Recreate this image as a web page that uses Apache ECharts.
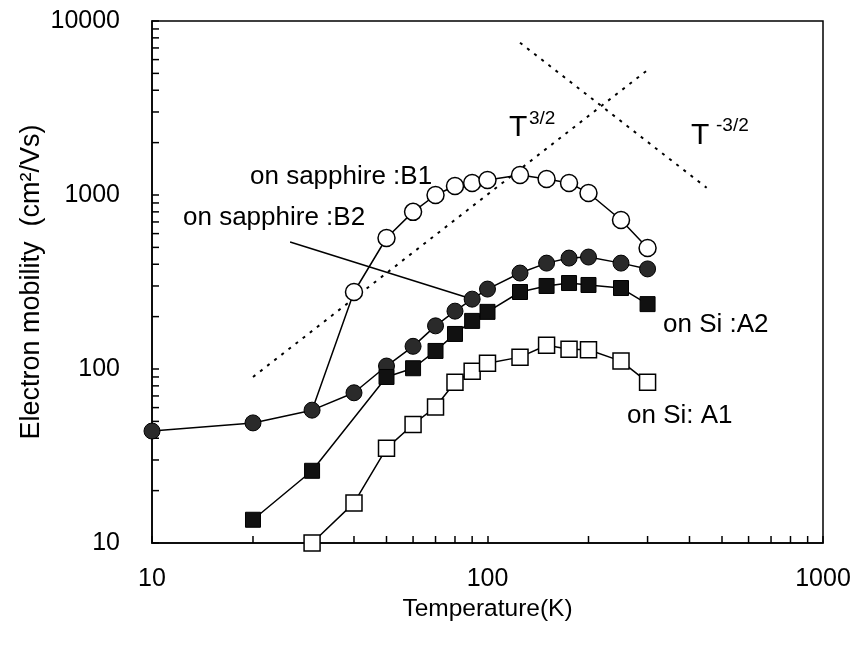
<!DOCTYPE html>
<html>
<head>
<meta charset="utf-8">
<style>
  html, body { margin: 0; padding: 0; background: #fff; }
  #chart { width: 861px; height: 649px; }
</style>
<script src="https://cdn.jsdelivr.net/npm/echarts@6/dist/echarts.min.js"></script>
</head>
<body>
<div id="chart"></div>
<script>
// temperature (K) and electron mobility (cm2/Vs)
var tempB1 = [30, 40, 50, 60, 70, 80, 90, 100, 125, 150, 175, 200, 250, 300];
var mobB1  = [58, 277, 566, 800, 1000, 1127, 1173, 1220, 1303, 1236, 1173, 1027, 718, 496];

var tempB2 = [10, 20, 30, 40, 50, 60, 70, 80, 90, 100, 125, 150, 175, 200, 250, 300];
var mobB2  = [44, 49, 58, 73, 104, 135, 177, 215, 252, 288, 356, 406, 434, 440, 406, 376];

var tempA2 = [20, 30, 50, 60, 70, 80, 90, 100, 125, 150, 175, 200, 250, 300];
var mobA2  = [13.6, 26, 90, 101, 127, 159, 189, 213, 277, 300, 312, 304, 292, 236];

var tempA1 = [30, 40, 50, 60, 70, 80, 90, 100, 125, 150, 175, 200, 250, 300];
var mobA1  = [10, 17, 35, 48, 60.5, 84, 97, 108, 117, 137, 130, 129, 111, 84];

// guide lines T^3/2 and T^-3/2 (end points)
var guideUpT = [20, 300];
var guideUpMu = [90, 5230];
var guideDownT = [125, 450];
var guideDownMu = [7500, 1100];

// pointer line for the B2 label
var pointerT = [25.8, 86];
var pointerMu = [537, 259];

// minor tick values
var xMinorTicks = [20, 30, 40, 50, 60, 70, 80, 90, 200, 300, 400, 500, 600, 700, 800, 900];
var yMinorTicks = [20, 30, 40, 50, 60, 70, 80, 90, 200, 300, 400, 500, 600, 700, 800, 900,
                   2000, 3000, 4000, 5000, 6000, 7000, 8000, 9000];

var FONT = '"Liberation Sans", Arial, sans-serif';

function pairs(xs, ys) {
    var out = [];
    for (var i = 0; i < xs.length; i++) {
        out.push([xs[i], ys[i]]);
    }
    return out;
}

var chart = echarts.init(document.getElementById('chart'));

var b1Data = pairs(tempB1, mobB1).map(function (p, i) {
    // first B1 point sits under the filled B2 circle at 30 K
    return i === 0 ? { value: p, symbolSize: 0 } : p;
});

var tickData = [];
xMinorTicks.forEach(function (v) { tickData.push([v, 10, 0]); });
yMinorTicks.forEach(function (v) { tickData.push([10, v, 1]); });

var plainNum = function (v) { return String(Math.round(v)); };

var option = {
    backgroundColor: '#fff',
    animation: false,
    grid: {
        left: 152,
        right: 38,
        top: 21,
        bottom: 106,
        show: true,
        borderColor: '#000',
        borderWidth: 1.5
    },
    xAxis: {
        type: 'log',
        logBase: 10,
        min: 10,
        max: 1000,
        name: 'Temperature(K)',
        nameLocation: 'middle',
        nameGap: 54,
        nameMoveOverlap: false,
        nameTextStyle: { color: '#000', fontSize: 24.5, fontFamily: FONT },
        axisLine: { lineStyle: { color: '#000', width: 1.5 } },
        axisTick: { inside: true, length: 7, lineStyle: { color: '#000', width: 1.5 } },
        axisLabel: { color: '#000', fontSize: 25, fontFamily: FONT, margin: 24, formatter: plainNum },
        splitLine: { show: false }
    },
    yAxis: {
        type: 'log',
        logBase: 10,
        min: 10,
        max: 10000,
        name: 'Electron mobility  (cm\u00b2/Vs)',
        nameLocation: 'middle',
        nameGap: 107,
        nameMoveOverlap: false,
        nameTextStyle: { color: '#000', fontSize: 27, fontFamily: FONT },
        axisLine: { lineStyle: { color: '#000', width: 1.5 } },
        axisTick: { inside: true, length: 7, lineStyle: { color: '#000', width: 1.5 } },
        axisLabel: { color: '#000', fontSize: 25, fontFamily: FONT, margin: 32, formatter: plainNum },
        splitLine: { show: false }
    },
    series: [
        {
            name: 'minor ticks',
            type: 'custom',
            clip: false,
            silent: true,
            data: tickData,
            renderItem: function (params, api) {
                var pt = api.coord([api.value(0), api.value(1)]);
                var vertical = api.value(2) === 0;
                return {
                    type: 'line',
                    shape: vertical
                        ? { x1: pt[0], y1: pt[1], x2: pt[0], y2: pt[1] - 7 }
                        : { x1: pt[0], y1: pt[1], x2: pt[0] + 7, y2: pt[1] },
                    style: { stroke: '#000', lineWidth: 1.5 }
                };
            },
            z: 1
        },
        {
            name: 'T3/2',
            type: 'line',
            data: pairs(guideUpT, guideUpMu),
            symbol: 'none',
            lineStyle: { color: '#000', width: 2, type: [3, 6] },
            z: 2
        },
        {
            name: 'T-3/2',
            type: 'line',
            data: pairs(guideDownT, guideDownMu),
            symbol: 'none',
            lineStyle: { color: '#000', width: 2, type: [3, 6] },
            z: 2
        },
        {
            name: 'pointer',
            type: 'line',
            data: pairs(pointerT, pointerMu),
            symbol: 'none',
            lineStyle: { color: '#000', width: 1.5 },
            z: 2
        },
        {
            name: 'on sapphire :B1',
            type: 'line',
            data: b1Data,
            symbol: 'circle',
            symbolSize: 17,
            showAllSymbol: true,
            lineStyle: { color: '#000', width: 1.5 },
            itemStyle: { color: '#fff', borderColor: '#000', borderWidth: 1.5 },
            z: 3
        },
        {
            name: 'on sapphire :B2',
            type: 'line',
            data: pairs(tempB2, mobB2),
            symbol: 'circle',
            symbolSize: 16,
            showAllSymbol: true,
            lineStyle: { color: '#000', width: 1.5 },
            itemStyle: { color: '#2a2a2a', borderColor: '#000', borderWidth: 1 },
            z: 4
        },
        {
            name: 'on Si :A2',
            type: 'line',
            data: pairs(tempA2, mobA2),
            symbol: 'rect',
            symbolSize: 15,
            showAllSymbol: true,
            lineStyle: { color: '#000', width: 1.5 },
            itemStyle: { color: '#111', borderColor: '#000', borderWidth: 1 },
            z: 4
        },
        {
            name: 'on Si: A1',
            type: 'line',
            data: pairs(tempA1, mobA1),
            symbol: 'rect',
            symbolSize: 16,
            showAllSymbol: true,
            lineStyle: { color: '#000', width: 1.5 },
            itemStyle: { color: '#fff', borderColor: '#000', borderWidth: 1.5 },
            z: 4
        }
    ],
    graphic: [
        { type: 'text', left: 250, top: 164, style: { text: 'on sapphire :B1', fill: '#000', font: '26px ' + FONT } },
        { type: 'text', left: 183, top: 205, style: { text: 'on sapphire :B2', fill: '#000', font: '26px ' + FONT } },
        { type: 'text', left: 663, top: 312, style: { text: 'on Si :A2', fill: '#000', font: '26px ' + FONT } },
        { type: 'text', left: 627, top: 403, style: { text: 'on Si: A1', fill: '#000', font: '26px ' + FONT } },
        { type: 'text', left: 509, top: 113, style: { text: 'T', fill: '#000', font: '30px ' + FONT } },
        { type: 'text', left: 529, top: 109, style: { text: '3/2', fill: '#000', font: '19px ' + FONT } },
        { type: 'text', left: 691, top: 121, style: { text: 'T', fill: '#000', font: '30px ' + FONT } },
        { type: 'text', left: 716, top: 116, style: { text: '-3/2', fill: '#000', font: '19px ' + FONT } }
    ]
};

chart.setOption(option);
</script>
</body>
</html>
